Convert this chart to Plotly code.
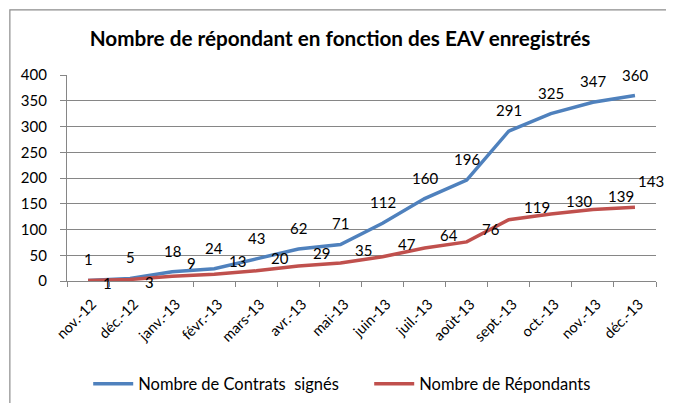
import plotly.graph_objects as go

months = ['nov.-12', 'déc.-12', 'janv.-13', 'févr.-13', 'mars-13', 'avr.-13', 'mai-13',
          'juin-13', 'juil.-13', 'août-13', 'sept.-13', 'oct.-13', 'nov.-13', 'déc.-13']
contrats = [1, 5, 18, 24, 43, 62, 71, 112, 160, 196, 291, 325, 347, 360]
repondants = [1, 3, 9, 13, 20, 29, 35, 47, 64, 76, 119, 130, 139, 143]

blue = '#4F81BD'
red = '#C0504D'
font = 'Lato, Liberation Sans, sans-serif'

fig = go.Figure()
fig.add_trace(go.Scatter(x=months, y=contrats, mode='lines', name='Nombre de Contrats  signés',
                         line=dict(color=blue, width=3.5)))
fig.add_trace(go.Scatter(x=months, y=repondants, mode='lines', name='Nombre de Répondants',
                         line=dict(color=red, width=3.5)))

# data labels, Excel style
for i, (m, v) in enumerate(zip(months, contrats)):
    fig.add_annotation(x=m, y=v, text=str(v), showarrow=False, yshift=21,
                       font=dict(size=15, color='black', family=font))
last = len(repondants) - 1
for i, (m, v) in enumerate(zip(months, repondants)):
    if i < 2:
        dy = -3
    elif i == last:
        dy = 26
    else:
        dy = 13
    fig.add_annotation(x=m, y=v, text=str(v), showarrow=False, xanchor='left',
                       xshift=1 if i == last else 13, yshift=dy,
                       font=dict(size=15, color='black', family=font))

# chart frame
fig.add_shape(type='rect', xref='paper', yref='paper', x0=-0.097, x1=1.2, y0=-1, y1=1.316,
              line=dict(color='#8c8c8c', width=1.2), fillcolor='rgba(0,0,0,0)', layer='below')

# page body has an 8px margin, so the figure is shrunk by that much
fig.update_layout(
    width=666, height=395,
    margin=dict(l=59, r=18, t=67, b=122, autoexpand=False),
    plot_bgcolor='white', paper_bgcolor='white',
    font=dict(family=font, color='black'),
    title=dict(text='<b>Nombre de répondant en fonction des EAV enregistrés</b>',
               x=0.4635, xref='paper', xanchor='center', y=0.922, yanchor='middle',
               font=dict(size=20.7, family=font, color='black')),
    showlegend=True,
    legend=dict(orientation='h', x=0.036, xanchor='left', y=-0.5, yanchor='middle',
                font=dict(size=16.5, family=font), itemwidth=40, tracegroupgap=0,
                entrywidth=226),
)
fig.update_xaxes(range=[-0.5, len(months) - 0.5], showgrid=False, showline=True,
                 linecolor='#868686', linewidth=1.2,
                 ticks='outside', tickson='boundaries', ticklen=5, tickcolor='#868686',
                 tickangle=-45, tickfont=dict(size=14.5, family=font), automargin=False,
                 ticklabelstandoff=8, ticklabelshift=4)
fig.update_yaxes(range=[0, 400], dtick=50, showgrid=True, gridcolor='#868686', gridwidth=1,
                 showline=True, linecolor='#868686', linewidth=1.2, zeroline=False,
                 ticks='outside', ticklen=6, tickcolor='#868686', ticklabelstandoff=10,
                 tickfont=dict(size=15, family=font), automargin=False)

fig.write_html("out.html")
